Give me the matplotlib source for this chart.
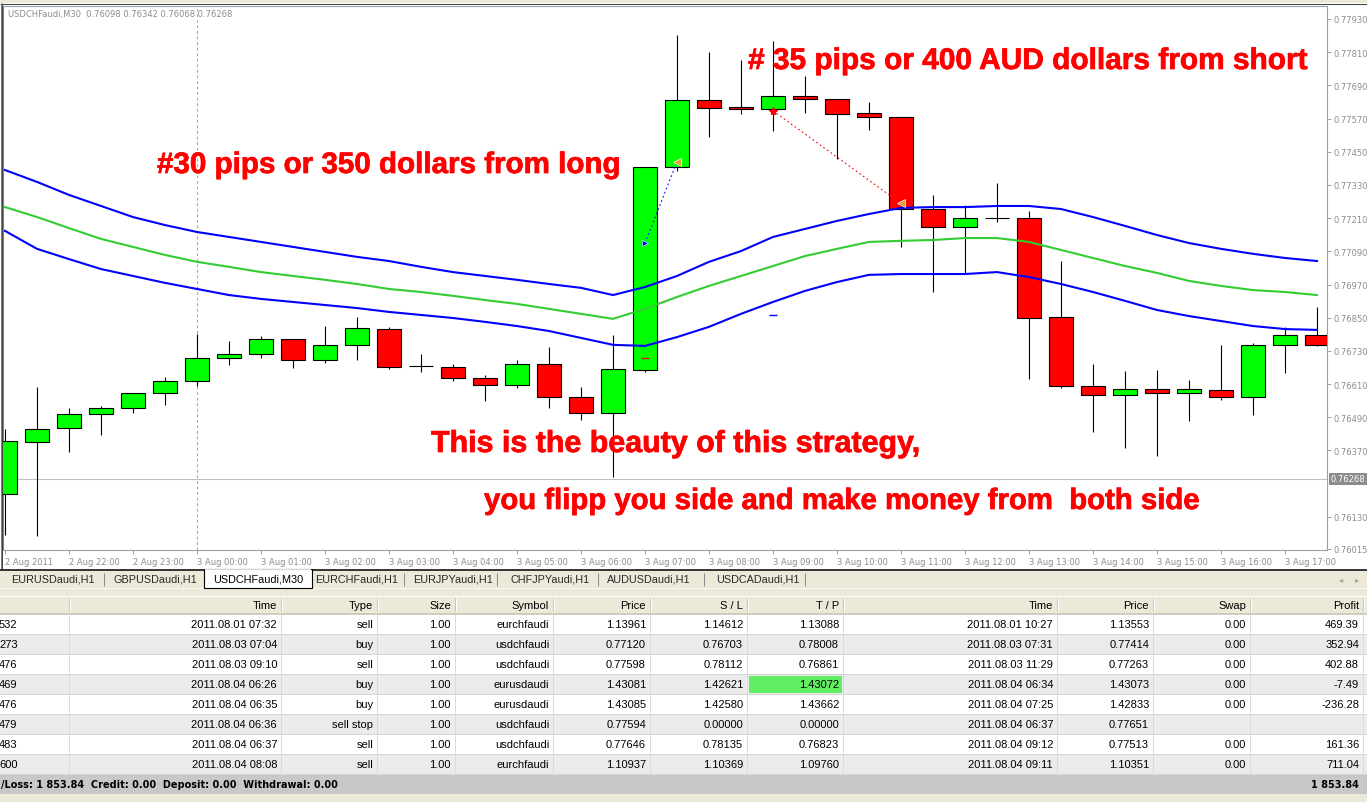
import matplotlib
matplotlib.use("Agg")
import matplotlib.pyplot as plt
import matplotlib.patheffects as pe
from matplotlib.patches import Rectangle
from matplotlib.transforms import blended_transform_factory

# ---------------- data ----------------
x_labels = ["2 Aug 2011", "2 Aug 22:00", "2 Aug 23:00"] + \
           ["3 Aug %02d:00" % h for h in range(0, 18)]
price_ticks = [0.77930, 0.77810, 0.77690, 0.77570, 0.77450, 0.77330, 0.77210,
               0.77090, 0.76970, 0.76850, 0.76730, 0.76610, 0.76490, 0.76370,
               0.76130, 0.76015]

opens = [0.76212, 0.76400, 0.76450, 0.76501, 0.76523, 0.76577, 0.76620, 0.76703, 0.76718, 0.76772,
         0.76696, 0.76750, 0.76808, 0.76675, 0.76671, 0.76631, 0.76606, 0.76682, 0.76562, 0.76505,
         0.76660, 0.77394, 0.77636, 0.77611, 0.77604, 0.77651, 0.77640, 0.77589, 0.77575, 0.77242,
         0.77177, 0.77210, 0.77210, 0.76852, 0.76602, 0.76570, 0.76591, 0.76577, 0.76588, 0.76562,
         0.76750, 0.76787]
highs = [0.76448, 0.76599, 0.76524, 0.76530, 0.76577, 0.76635, 0.76791, 0.76765, 0.76784, 0.76772,
         0.76820, 0.76852, 0.76816, 0.76719, 0.76683, 0.76643, 0.76697, 0.76743, 0.76599, 0.76788,
         0.77394, 0.77872, 0.77810, 0.77782, 0.77850, 0.77723, 0.77640, 0.77629, 0.77575, 0.77294,
         0.77258, 0.77337, 0.77236, 0.77055, 0.76683, 0.76658, 0.76661, 0.76625, 0.76752, 0.76758,
         0.76816, 0.76890]
lows = [0.76066, 0.76062, 0.76366, 0.76427, 0.76507, 0.76536, 0.76603, 0.76680, 0.76706, 0.76669,
        0.76688, 0.76698, 0.76666, 0.76655, 0.76622, 0.76550, 0.76595, 0.76523, 0.76481, 0.76273,
        0.76655, 0.77382, 0.77502, 0.77588, 0.77526, 0.77591, 0.77423, 0.77530, 0.77107, 0.76944,
        0.77011, 0.77195, 0.76630, 0.76595, 0.76438, 0.76380, 0.76349, 0.76478, 0.76552, 0.76500,
        0.76651, 0.76747]
closes = [0.76403, 0.76447, 0.76501, 0.76523, 0.76577, 0.76620, 0.76703, 0.76718, 0.76772, 0.76696,
          0.76750, 0.76812, 0.76671, 0.76675, 0.76631, 0.76606, 0.76682, 0.76562, 0.76505, 0.76664,
          0.77394, 0.77636, 0.77607, 0.77604, 0.77651, 0.77640, 0.77586, 0.77575, 0.77242, 0.77177,
          0.77210, 0.77210, 0.76848, 0.76602, 0.76570, 0.76591, 0.76577, 0.76591, 0.76562, 0.76750,
          0.76787, 0.76750]

upper_band = [0.77384, 0.77341, 0.77294, 0.77254, 0.77214, 0.77185, 0.77160, 0.77142, 0.77124, 0.77106,
              0.77088, 0.77070, 0.77055, 0.77034, 0.77015, 0.77001, 0.76987, 0.76972, 0.76958, 0.76932,
              0.76961, 0.77001, 0.77052, 0.77091, 0.77142, 0.77171, 0.77200, 0.77225, 0.77247, 0.77250,
              0.77250, 0.77254, 0.77254, 0.77243, 0.77214, 0.77182, 0.77149, 0.77120, 0.77099, 0.77081,
              0.77066, 0.77055]
middle_band = [0.77250, 0.77214, 0.77174, 0.77135, 0.77106, 0.77077, 0.77052, 0.77034, 0.77015, 0.77001,
               0.76987, 0.76972, 0.76954, 0.76943, 0.76929, 0.76914, 0.76900, 0.76882, 0.76864, 0.76846,
               0.76882, 0.76925, 0.76965, 0.77001, 0.77037, 0.77073, 0.77099, 0.77124, 0.77128, 0.77131,
               0.77138, 0.77138, 0.77124, 0.77095, 0.77066, 0.77037, 0.77012, 0.76983, 0.76965, 0.76950,
               0.76943, 0.76932]
lower_band = [0.77164, 0.77099, 0.77062, 0.77026, 0.77001, 0.76976, 0.76954, 0.76932, 0.76918, 0.76907,
              0.76896, 0.76885, 0.76871, 0.76860, 0.76849, 0.76835, 0.76820, 0.76802, 0.76777, 0.76752,
              0.76748, 0.76780, 0.76817, 0.76864, 0.76907, 0.76947, 0.76979, 0.77005, 0.77008, 0.77008,
              0.77008, 0.77015, 0.76997, 0.76972, 0.76943, 0.76911, 0.76878, 0.76856, 0.76838, 0.76820,
              0.76809, 0.76806]

bid_price = 0.76268
header_text = "USDCHFaudi,M30  0.76098 0.76342 0.76068 0.76268"

# trades drawn on chart: (open bar, open price, close bar, close price)
trade_open_bar = [20, 24]
trade_open_price = [0.77120, 0.77598]
trade_close_bar = [21, 28]
trade_close_price = [0.77414, 0.77263]
trade_colors = ["#0000FF", "#FF0000"]
stop_marks_bar = [20, 24]
stop_marks_price = [0.76703, 0.76861]
stop_marks_color = ["#FF0000", "#0000FF"]

annotations = ["# 35 pips or 400 AUD dollars from short",
               "#30 pips or 350 dollars from long",
               "This is the beauty of this strategy,",
               "you flipp you side and make money from  both side"]

tabs = ["EURUSDaudi,H1", "GBPUSDaudi,H1", "USDCHFaudi,M30", "EURCHFaudi,H1",
        "EURJPYaudi,H1", "CHFJPYaudi,H1", "AUDUSDaudi,H1", "USDCADaudi,H1"]

col_headers = ["", "Time", "Type", "Size", "Symbol", "Price", "S / L", "T / P",
               "Time", "Price", "Swap", "Profit"]
tickets = ["532", "273", "476", "469", "476", "479", "483", "600"]
open_times = ["2011.08.01 07:32", "2011.08.03 07:04", "2011.08.03 09:10", "2011.08.04 06:26",
              "2011.08.04 06:35", "2011.08.04 06:36", "2011.08.04 06:37", "2011.08.04 08:08"]
types = ["sell", "buy", "sell", "buy", "buy", "sell stop", "sell", "sell"]
sizes = ["1.00"] * 8
symbols = ["eurchfaudi", "usdchfaudi", "usdchfaudi", "eurusdaudi", "eurusdaudi",
           "usdchfaudi", "usdchfaudi", "eurchfaudi"]
open_prices = ["1.13961", "0.77120", "0.77598", "1.43081", "1.43085", "0.77594", "0.77646", "1.10937"]
stop_losses = ["1.14612", "0.76703", "0.78112", "1.42621", "1.42580", "0.00000", "0.78135", "1.10369"]
take_profits = ["1.13088", "0.78008", "0.76861", "1.43072", "1.43662", "0.00000", "0.76823", "1.09760"]
close_times = ["2011.08.01 10:27", "2011.08.03 07:31", "2011.08.03 11:29", "2011.08.04 06:34",
               "2011.08.04 07:25", "2011.08.04 06:37", "2011.08.04 09:12", "2011.08.04 09:11"]
close_prices = ["1.13553", "0.77414", "0.77263", "1.43073", "1.42833", "0.77651", "0.77513", "1.10351"]
swaps = ["0.00", "0.00", "0.00", "0.00", "0.00", "", "0.00", "0.00"]
profits = ["469.39", "352.94", "402.88", "-7.49", "-236.28", "", "161.36", "711.04"]
footer_left = "/Loss: 1 853.84  Credit: 0.00  Deposit: 0.00  Withdrawal: 0.00"
footer_right = "1 853.84"

# ---------------- layout ----------------
W, H = 1367, 803
fig = plt.figure(figsize=(W / 100, H / 100), dpi=100)
fig.patch.set_facecolor("white")


def frac(x0, y0, x1, y1):
    return [x0 / W, 1 - y1 / H, (x1 - x0) / W, (y1 - y0) / H]


BEIGE = "#ECE9D8"

# background (pixel coordinates)
bg = fig.add_axes([0, 0, 1, 1])
bg.set_xlim(0, W)
bg.set_ylim(H, 0)
bg.axis("off")


def rect(a, x0, y0, x1, y1, fc, ec="none", lw=0.0, z=1):
    a.add_patch(Rectangle((x0, y0), x1 - x0, y1 - y0, facecolor=fc, edgecolor=ec, lw=lw, zorder=z))


def hline(a, x0, x1, y, c, lw=0.72, z=2):
    a.plot([x0, x1], [y, y], color=c, lw=lw, zorder=z, solid_capstyle="butt")


def vline(a, x, y0, y1, c, lw=0.72, z=2):
    a.plot([x, x], [y0, y1], color=c, lw=lw, zorder=z, solid_capstyle="butt")


# window frame top / left
rect(bg, 0, 0, W, 4, BEIGE)
hline(bg, 0, W, 4.5, "#404040")
vline(bg, 0.5, 4, 570, "#808080")
vline(bg, 1.5, 4, 570, "#404040")

# tab bar
hline(bg, 0, W, 570.5, "#000000", lw=1.1)
rect(bg, 0, 571, W, 596, BEIGE)
hline(bg, 0, W, 588.5, "#F8F8F4")
tab_centers = [53, 155, 258, 357, 453, 550, 649, 758]
tab_seps = [104, 404, 497, 598, 704, 805]
for s in tab_seps:
    vline(bg, s, 574, 587, "#8C8C8C")
rect(bg, 204, 570, 312, 589, "white", ec="black", lw=0.8, z=3)
hline(bg, 205, 311, 570.5, "white", lw=1.2, z=4)
for name, cx in zip(tabs, tab_centers):
    bg.text(cx, 580, name, ha="center", va="center", fontsize=7.8,
            family="Liberation Sans", color="#000000" if name.endswith("M30") else "#2A2A2A", zorder=5)
bg.text(1341, 580, "◂", ha="center", va="center", fontsize=6, color="#A0A0A0")
bg.text(1357, 580, "▸", ha="center", va="center", fontsize=6, color="#A0A0A0")

# table
col_right = [69, 281, 377, 455, 553, 650, 747, 843, 1057, 1153, 1250, 1363]
hdr_top, hdr_bot = 596, 615
row_h = 20
n_rows = len(tickets)
rect(bg, 0, hdr_top, W, hdr_bot, BEIGE)
hline(bg, 0, W, hdr_top + 0.5, "white")
hline(bg, 0, W, hdr_bot - 0.5, "#C9C5B5", lw=1.2)
for xr in col_right:
    vline(bg, xr, hdr_top + 3, hdr_bot - 3, "#C9C5B5")
    vline(bg, xr + 1, hdr_top + 3, hdr_bot - 3, "white")
for j, h in enumerate(col_headers):
    if h:
        bg.text(col_right[j] - 4, 606, h, ha="right", va="center",
                fontsize=8, family="Liberation Sans", color="black", zorder=5)

columns = [open_times, types, sizes, symbols, open_prices, stop_losses, take_profits,
           close_times, close_prices, swaps, profits]
for i in range(n_rows):
    y0 = hdr_bot + i * row_h
    rect(bg, 0, y0, W, y0 + row_h, "white" if i % 2 == 0 else "#EBEBEB")
    hline(bg, 0, W, y0 + row_h - 0.5, "#D4D4D4")
    yc = y0 + row_h / 2 + 0.5
    bg.text(-1, yc, tickets[i], ha="left", va="center", fontsize=8,
            family="Liberation Sans", zorder=5)
    for j, col in enumerate(columns):
        bg.text(col_right[j + 1] - 4, yc, col[i], ha="right", va="center",
                fontsize=8, family="Liberation Sans", zorder=5)
for xr in col_right:
    vline(bg, xr, hdr_bot, hdr_bot + n_rows * row_h, "#DADADA")
# highlighted take-profit cell
rect(bg, col_right[6] + 2, hdr_bot + 3 * row_h + 2, col_right[7] - 1,
     hdr_bot + 4 * row_h - 1, "#62EE62", z=3)

foot_top = hdr_bot + n_rows * row_h
rect(bg, 0, foot_top, W, foot_top + 20, "#C8C8C8")
rect(bg, 0, foot_top + 20, W, H, BEIGE)
bg.text(1, foot_top + 10.5, footer_left, ha="left", va="center", fontsize=7.0,
        family="DejaVu Sans", weight="bold", zorder=5)
bg.text(1359, foot_top + 10.5, footer_right, ha="right", va="center", fontsize=7.0,
        family="DejaVu Sans", weight="bold", zorder=5)

# ---------------- chart ----------------
PX_PER_BAR = 32.0
PX_PER_UNIT = 27660.0
ax = fig.add_axes(frac(3, 7, 1327, 551))
ax.set_facecolor("white")
ax.set_xlim((3 - 5) / PX_PER_BAR, (1327 - 5) / PX_PER_BAR)
ax.set_ylim(0.77930 - (551 - 20) / PX_PER_UNIT, 0.77930 + (20 - 7) / PX_PER_UNIT)
for sp in ax.spines.values():
    sp.set_color("#A0A0A0")
    sp.set_linewidth(0.8)
ax.spines["left"].set_color("#808080")

ax.yaxis.tick_right()
ax.set_yticks(price_ticks)
ax.set_yticklabels(["%.5f" % p for p in price_ticks])
ax.tick_params(axis="y", which="both", right=True, left=False, labelright=True, labelleft=False,
               length=3, width=0.7, color="#A0A0A0", labelcolor="#8C8C8C", labelsize=6, pad=1.5)
ax.set_xticks(list(range(0, 42, 2)))
ax.set_xticklabels(x_labels, ha="left")
ax.tick_params(axis="x", length=3, width=0.7, color="#A0A0A0", labelcolor="#8C8C8C",
               labelsize=6, pad=2)
for lab in ax.get_xticklabels():
    lab.set_family("DejaVu Sans")

xs = list(range(len(opens)))
ax.axvline(6, color="#A8A8A8", lw=0.8, ls=(0, (2.5, 2.5)), zorder=1)
ax.axhline(bid_price, color="#C0C0C0", lw=0.8, zorder=1)

BODY_W = 24 / PX_PER_BAR
ax.vlines(xs, lows, highs, color="black", lw=0.8, zorder=2)
for x, o, c in zip(xs, opens, closes):
    if abs(c - o) < 1e-7:
        ax.hlines(o, x - BODY_W / 2, x + BODY_W / 2, color="black", lw=0.8, zorder=3)
    else:
        ax.bar(x, abs(c - o), bottom=min(o, c), width=BODY_W,
               color="#00FF00" if c > o else "#FF0000", edgecolor="black", linewidth=0.8, zorder=3)

ax.plot(xs, upper_band, color="#0000FF", lw=1.5, zorder=4)
ax.plot(xs, middle_band, color="#32CD32", lw=1.5, zorder=4)
ax.plot(xs, lower_band, color="#0000FF", lw=1.5, zorder=4)

for ob, op, cb, cp, col in zip(trade_open_bar, trade_open_price, trade_close_bar,
                               trade_close_price, trade_colors):
    ax.plot([ob, cb], [op, cp], color=col, lw=0.8, ls=(0, (1.5, 2.5)), zorder=5)
    ax.plot([cb], [cp], marker="<", ms=6, color="#E0A030", mec="white", mew=0.5, zorder=6)
ax.plot([trade_open_bar[0]], [trade_open_price[0]], marker=">", ms=5, color="#0000FF",
        mec="white", mew=0.4, zorder=6)
ax.plot([trade_open_bar[1]], [trade_open_price[1]], marker="*", ms=6, color="#FF0000",
        mec="#FF0000", zorder=6)
for b, p, c in zip(stop_marks_bar, stop_marks_price, stop_marks_color):
    ax.hlines(p, b - 0.12, b + 0.12, color=c, lw=1.0, zorder=6)

# bid label on price axis
tr = blended_transform_factory(ax.transAxes, ax.transData)
ax.text(1.0 + 3.5 / 1324, bid_price, "%.5f" % bid_price, transform=tr, ha="left", va="center",
        fontsize=6, color="white", zorder=10, clip_on=False,
        bbox=dict(facecolor="#8C8C8C", edgecolor="none", pad=1.2))

# ---------------- overlay texts (pixel coords) ----------------
fg = fig.add_axes([0, 0, 1, 1])
fg.set_xlim(0, W)
fg.set_ylim(H, 0)
fg.axis("off")
fg.patch.set_visible(False)

fg.text(8, 15, header_text, ha="left", va="center", fontsize=6, color="#8C8C8C",
        family="DejaVu Sans")

renderer = fig.canvas.get_renderer()
ann_place = [(748, 70, 560), (157, 174, 464), (431, 453, 489), (484, 510, 717)]
for s, (x0, yb, wtarget) in zip(annotations, ann_place):
    t = fg.text(x0, yb, s, ha="left", va="baseline", fontsize=18, color="#FF0000",
                family="Liberation Sans", weight="bold")
    w = t.get_window_extent(renderer).width
    t.set_fontsize(18 * wtarget / w)
    t.set_path_effects([pe.withStroke(linewidth=0.5, foreground="#FF0000")])

fig.savefig("out.png", dpi=100, facecolor=fig.get_facecolor())
